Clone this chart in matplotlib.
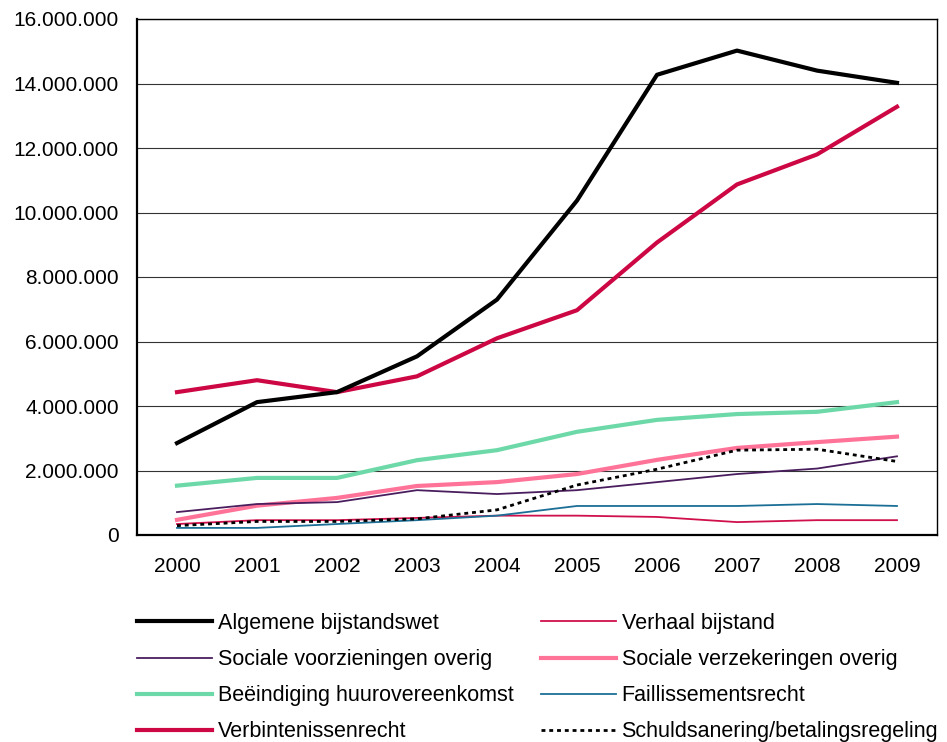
import matplotlib
matplotlib.use("Agg")
import matplotlib.pyplot as plt
from matplotlib.ticker import FuncFormatter, MultipleLocator

plt.rcParams['font.family'] = ['Liberation Sans', 'DejaVu Sans']

years = ['2000', '2001', '2002', '2003', '2004', '2005', '2006', '2007', '2008', '2009']

algemene_bijstandswet = [2.85, 4.12, 4.43, 5.54, 7.30, 10.37, 14.27, 15.02, 14.40, 14.02]
verhaal_bijstand = [0.34, 0.46, 0.46, 0.53, 0.60, 0.60, 0.56, 0.40, 0.46, 0.46]
sociale_voorzieningen = [0.71, 0.96, 1.02, 1.39, 1.27, 1.39, 1.64, 1.89, 2.06, 2.44]
sociale_verzekeringen = [0.47, 0.91, 1.15, 1.52, 1.64, 1.89, 2.33, 2.70, 2.88, 3.05]
beeindiging_huur = [1.53, 1.77, 1.77, 2.32, 2.63, 3.20, 3.57, 3.75, 3.82, 4.12]
faillissementsrecht = [0.22, 0.22, 0.34, 0.46, 0.60, 0.90, 0.90, 0.90, 0.96, 0.90]
verbintenissenrecht = [4.43, 4.80, 4.43, 4.92, 6.10, 6.97, 9.07, 10.87, 11.80, 13.28]
schuldsanering = [0.29, 0.42, 0.42, 0.50, 0.78, 1.55, 2.04, 2.63, 2.66, 2.28]

labels = ['Algemene bijstandswet', 'Verhaal bijstand', 'Sociale voorzieningen overig',
          'Sociale verzekeringen overig', 'Beëindiging huurovereenkomst', 'Faillissementsrecht',
          'Verbintenissenrecht', 'Schuldsanering/betalingsregeling']

M = 1e6
fig = plt.figure(figsize=(9.47, 7.42), dpi=100)
ax = fig.add_axes([137/947, 1-535/742, 800/947, 516/742])

x = list(range(len(years)))
h = {}
h['alg'], = ax.plot(x, [v*M for v in algemene_bijstandswet], color='black', lw=3.0, zorder=5)
h['verh'], = ax.plot(x, [v*M for v in verhaal_bijstand], color='#D0104C', lw=1.3, zorder=3)
h['svo'], = ax.plot(x, [v*M for v in sociale_voorzieningen], color='#4A1E5E', lw=1.3, zorder=3)
h['sve'], = ax.plot(x, [v*M for v in sociale_verzekeringen], color='#FF7399', lw=3.0, zorder=2)
h['bee'], = ax.plot(x, [v*M for v in beeindiging_huur], color='#6DD9A8', lw=3.0, zorder=2)
h['fai'], = ax.plot(x, [v*M for v in faillissementsrecht], color='#1B6F96', lw=1.3, zorder=3)
h['verb'], = ax.plot(x, [v*M for v in verbintenissenrecht], color='#CC0744', lw=3.0, zorder=4)
h['sch'], = ax.plot(x, [v*M for v in schuldsanering], color='black', lw=2.0, ls=(0, (1.4, 1.4)), zorder=4)

ax.set_xlim(-0.5, 9.5)
ax.set_ylim(0, 16*M)
ax.yaxis.set_major_locator(MultipleLocator(2*M))
ax.yaxis.set_major_formatter(FuncFormatter(lambda v, p: f"{int(round(v)):,}".replace(',', '.')))
ax.set_xticks(x)
ax.set_xticklabels(years)
ax.tick_params(axis='both', length=0, labelsize=15)
ax.tick_params(axis='x', pad=16)
ax.tick_params(axis='y', pad=13)
ax.grid(axis='y', color='#333333', lw=0.8)
ax.set_axisbelow(True)
for s in ['top', 'right']:
    ax.spines[s].set_linewidth(1.0)
for s in ['left', 'bottom']:
    ax.spines[s].set_linewidth(1.6)

order = ['alg', 'svo', 'bee', 'verb', 'verh', 'sve', 'fai', 'sch']
idx = {'alg': 0, 'verh': 1, 'svo': 2, 'sve': 3, 'bee': 4, 'fai': 5, 'verb': 6, 'sch': 7}
fig.legend([h[k] for k in order], [labels[idx[k]] for k in order],
           ncol=2, loc='upper left', bbox_to_anchor=(137/947, 1-613/742),
           frameon=False, fontsize=15.5, handlelength=3.5, handletextpad=0.25,
           columnspacing=1.27, labelspacing=0.7, borderpad=0, borderaxespad=0)

fig.savefig('out.png', dpi=100)
